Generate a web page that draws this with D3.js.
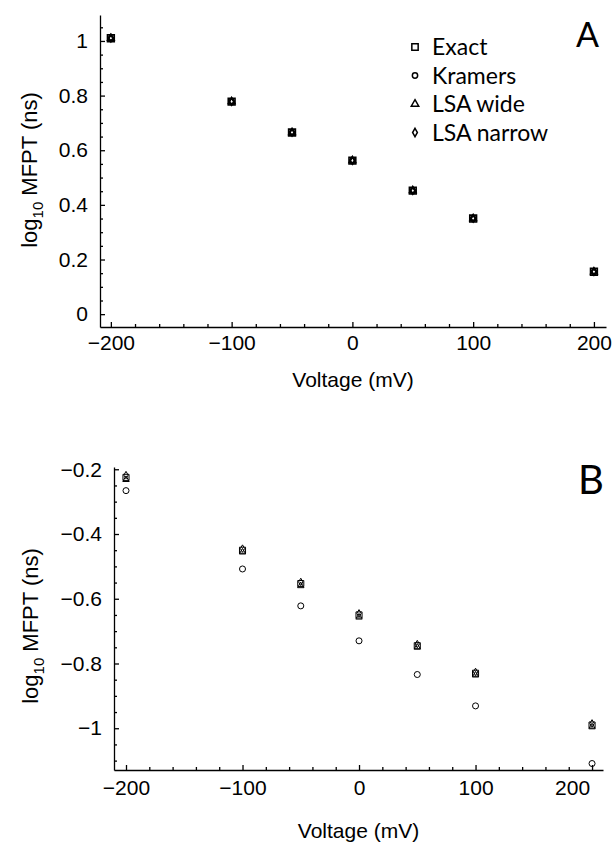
<!DOCTYPE html>
<html><head><meta charset="utf-8">
<script src="https://cdn.jsdelivr.net/npm/d3@7"></script>
<style>body{margin:0;background:#fff}svg{display:block}</style>
</head><body>
<svg id="c" width="613" height="843"></svg>
<script>
const voltages = [-200, -100, -50, 0, 50, 100, 200];
const seriesNames = ["Exact", "Kramers", "LSA wide", "LSA narrow"];
// Panel A values (log10 MFPT, ns)
const aExact     = [1.010, 0.778, 0.665, 0.562, 0.452, 0.350, 0.155];
const aKramers   = [1.008, 0.777, 0.664, 0.561, 0.451, 0.349, 0.154];
const aLsaWide   = [1.010, 0.778, 0.665, 0.562, 0.452, 0.350, 0.155];
const aLsaNarrow = [1.011, 0.779, 0.666, 0.563, 0.453, 0.351, 0.156];
// Panel B values
const bExact     = [-0.225, -0.450, -0.553, -0.650, -0.745, -0.830, -0.990];
const bKramers   = [-0.266, -0.508, -0.622, -0.730, -0.834, -0.931, -1.109];
const bLsaWide   = [-0.232, -0.456, -0.560, -0.657, -0.750, -0.836, -0.996];
const bLsaNarrow = [-0.218, -0.445, -0.548, -0.645, -0.740, -0.826, -0.985];
const xTicks = [-200, -100, 0, 100, 200];
const aYTicks = [0, 0.2, 0.4, 0.6, 0.8, 1];
const bYTicks = [-1, -0.8, -0.6, -0.4, -0.2];

const svg = d3.select("#c");
const axisFont = "'Liberation Sans', Arial, sans-serif";
const legFont = "Lato, 'Open Sans', sans-serif";
const symTypes = [d3.symbolSquare, d3.symbolCircle, d3.symbolTriangle, d3.symbolDiamond];
const symSizes = [46, 26, 18, 16];
const fmt = v => { const s = d3.format("")(+v.toFixed(2)); return s.replace("-", "\u2013"); };

function panel(opt) {
  const x = d3.scaleLinear().domain(opt.xd).range([opt.l, opt.r]);
  const y = d3.scaleLinear().domain(opt.yd).range([opt.b, opt.t]);
  const g = svg.append("g");
  const xMinor = d3.range(-200, 201, 20).filter(v => v % 100 !== 0);
  g.append("g").attr("transform", `translate(0,${opt.b})`)
    .call(d3.axisBottom(x).tickValues(xMinor).tickSizeInner(-3).tickSizeOuter(0).tickFormat(""))
    .call(s => s.select(".domain").remove());
  const xa = g.append("g").attr("transform", `translate(0,${opt.b})`)
    .call(d3.axisBottom(x).tickValues(xTicks).tickSizeInner(-5).tickSizeOuter(0).tickPadding(opt.xpad).tickFormat(fmt));
  xa.selectAll("text").attr("font-family", axisFont).attr("font-size", 21).attr("fill", "#000");
  if (opt.lastShift) xa.selectAll(".tick text").filter(d => d === 200).attr("dx", opt.lastShift);
  g.append("g").attr("transform", `translate(${opt.l},0)`)
    .call(d3.axisLeft(y).tickValues(opt.yMinor).tickSizeInner(-3).tickSizeOuter(0).tickFormat(""))
    .call(s => s.select(".domain").remove());
  const ya = g.append("g").attr("transform", `translate(${opt.l},0)`)
    .call(d3.axisLeft(y).tickValues(opt.yTicks).tickSizeInner(-5).tickSizeOuter(0).tickPadding(opt.ypad).tickFormat(fmt));
  ya.selectAll("text").attr("font-family", axisFont).attr("font-size", 21).attr("fill", "#000");
  g.selectAll(".domain, .tick line").attr("stroke", "#000").attr("stroke-width", 1.3);
  g.append("text").attr("x", (opt.l + opt.r) / 2).attr("y", opt.xlabY).attr("text-anchor", "middle")
    .attr("font-family", axisFont).attr("font-size", 21).text("Voltage (mV)");
  const yl = g.append("text").attr("transform", `translate(${opt.ylabX},${opt.ylabY}) rotate(-90)`)
    .attr("text-anchor", "middle").attr("font-family", axisFont).attr("font-size", 22);
  yl.append("tspan").text("log");
  yl.append("tspan").attr("font-size", 15).attr("dy", 6).text("10");
  yl.append("tspan").attr("dy", -6).text(" MFPT (ns)");
  g.append("text").attr("x", opt.letterX).attr("y", opt.letterY).attr("font-family", legFont)
    .attr("font-size", opt.letterSize).text(opt.letter);
  opt.series.forEach((vals, i) => {
    g.append("g").selectAll("path").data(vals).join("path")
      .attr("transform", (d, j) => `translate(${x(voltages[j])},${y(d)})`)
      .attr("d", d3.symbol().type(symTypes[i]).size(symSizes[i] * opt.ms[i]))
      .attr("fill", "none").attr("stroke", "#000").attr("stroke-width", opt.mw);
  });
  return {x, y};
}

panel({
  l: 100, r: 606, t: 15, b: 327, xd: [-209, 210], yd: [-0.047, 1.095],
  yTicks: aYTicks, yMinor: d3.range(0, 1.06, 0.05).map(v => +v.toFixed(2)).filter(v => Math.abs(v * 5 - Math.round(v * 5)) > 1e-6),
  xpad: 8, ypad: 12, xlabY: 387, ylabX: 37, ylabY: 170,
  letter: "A", letterX: 576, letterY: 47, letterSize: 34,
  series: [aExact, aKramers, aLsaWide, aLsaNarrow], mw: 1.6, ms: [1, 0.8, 1, 1]
});
panel({
  l: 114, r: 603, t: 467, b: 770, xd: [-210.3, 209.4], yd: [-1.129, -0.193],
  yTicks: bYTicks, yMinor: d3.range(-1.1, -0.19, 0.05).map(v => +v.toFixed(2)).filter(v => Math.abs(v * 5 - Math.round(v * 5)) > 1e-6),
  xpad: 10, ypad: 12, xlabY: 838, ylabX: 38, ylabY: 626, lastShift: -20,
  letter: "B", letterX: 578, letterY: 494, letterSize: 40,
  series: [bExact, bKramers, bLsaWide, bLsaNarrow], mw: 1, ms: [0.8, 1.1, 1, 1]
});

const leg = svg.append("g");
const legY = [47, 75.5, 104, 132.5];
seriesNames.forEach((n, i) => {
  leg.append("path").attr("transform", `translate(415,${legY[i]})`)
    .attr("d", d3.symbol().type(symTypes[i]).size([40, 22, 24, 20][i]))
    .attr("fill", "none").attr("stroke", "#000").attr("stroke-width", 1.5);
  leg.append("text").attr("x", 432).attr("y", legY[i] + 8).attr("font-family", legFont)
    .attr("font-size", 23).text(n);
});
</script>
</body></html>
